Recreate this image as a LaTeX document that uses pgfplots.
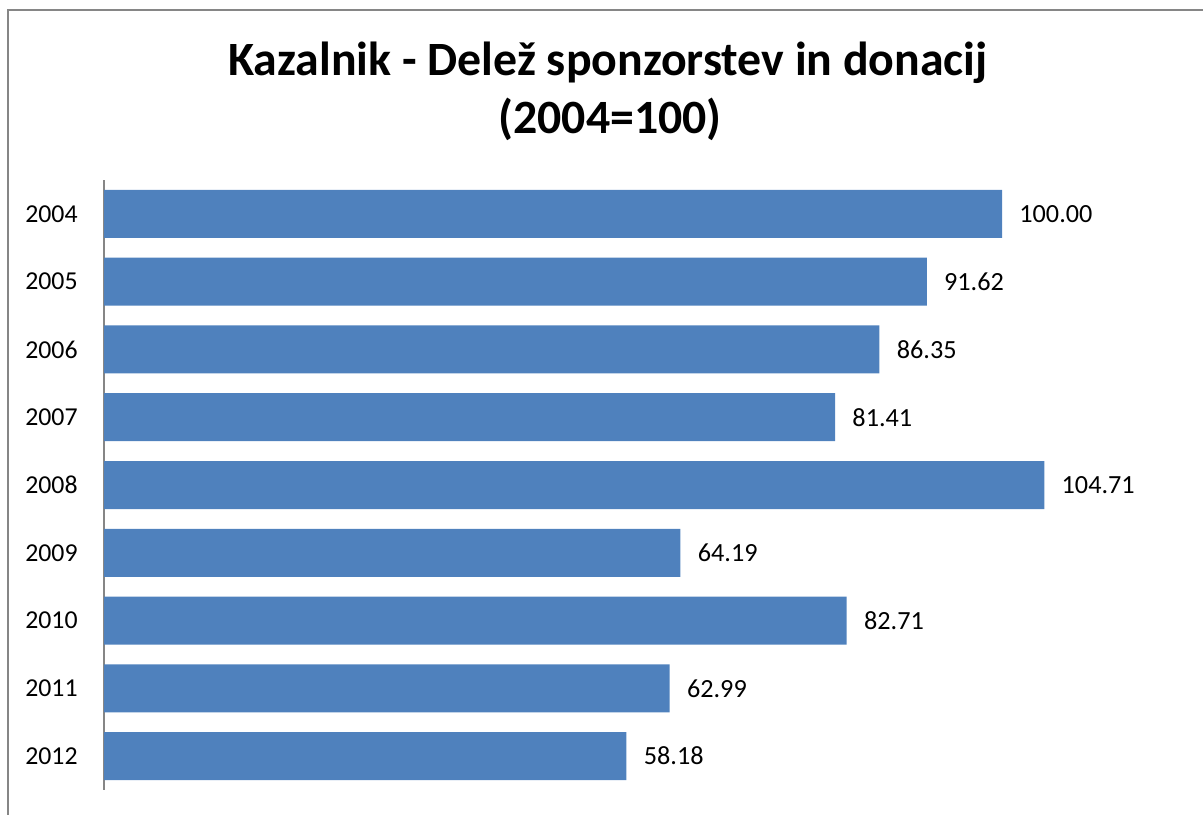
\documentclass[border=0pt]{standalone}
\usepackage{pgfplots}
\pgfplotsset{compat=1.18}
\usepackage{fontspec}
\setmainfont{Carlito}
\definecolor{barblue}{HTML}{4F81BD}
\definecolor{framegray}{HTML}{868686}
\begin{document}
\begin{tikzpicture}
\path[use as bounding box] (0pt,0pt) rectangle (601.5pt,407pt);
\draw[framegray, line width=1pt] (4pt,-2pt) -- (4pt,402pt) -- (603pt,402pt);
\node[font=\fontsize{23.9}{28}\selectfont\bfseries, anchor=base, inner sep=0pt] at (304pt,369pt) {Kazalnik - Delež sponzorstev in donacij};
\node[font=\fontsize{23.9}{28}\selectfont\bfseries, anchor=base, inner sep=0pt] at (305pt,340pt) {(2004=100)};
\begin{axis}[
  at={(52pt,12pt)}, anchor=south west,
  scale only axis,
  width=538.8pt, height=305pt,
  xmin=0, xmax=120,
  ymin=-0.5, ymax=8.5,
  y dir=reverse,
  xbar, bar width=24pt,
  axis x line=none,
  axis y line*=left,
  y axis line style={framegray, line width=1pt, -},
  ytick={0,1,2,3,4,5,6,7,8},
  yticklabels={2004,2005,2006,2007,2008,2009,2010,2011,2012},
  major tick length=0pt,
  yticklabel style={font=\fontsize{12.9}{15}\selectfont, anchor=east, inner sep=0pt, xshift=-13pt},
  /pgf/number format/assume math mode=true,
  point meta=explicit symbolic,
  nodes near coords,
  nodes near coords style={font=\fontsize{13.1}{15}\selectfont, anchor=west, inner sep=0pt, xshift=8.5pt},
  clip=false,
]
\addplot[fill=barblue, draw=none] coordinates {
  (100.00,0) [100.00]
  (91.62,1) [91.62]
  (86.35,2) [86.35]
  (81.41,3) [81.41]
  (104.71,4) [104.71]
  (64.19,5) [64.19]
  (82.71,6) [82.71]
  (62.99,7) [62.99]
  (58.18,8) [58.18]
};
\end{axis}
\end{tikzpicture}
\end{document}
